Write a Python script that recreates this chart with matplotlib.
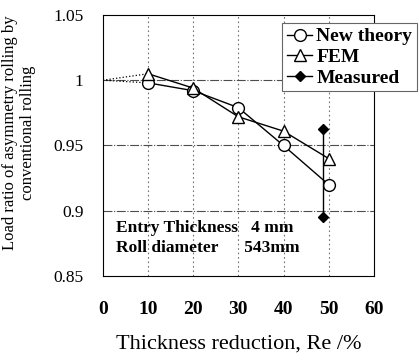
import numpy as np
import matplotlib
matplotlib.use('Agg')
import matplotlib.pyplot as plt

plt.rcParams['font.family'] = ['Liberation Serif', 'DejaVu Serif']

# thickness reduction (%)
reduction = [10, 20, 30, 40, 50]
new_theory = [0.998, 0.992, 0.979, 0.950, 0.920]
fem = [1.005, 0.994, 0.972, 0.961, 0.940]
# measured spread at ~49% reduction
measured_x = [48.8, 48.8]
measured_y = [0.963, 0.895]
# both curves start from ratio 1 at zero reduction
start_x = 0
start_y = 1.0

xticks = [0, 10, 20, 30, 40, 50, 60]
yticks = [0.85, 0.9, 0.95, 1.0, 1.05]
ylabels = ['0.85', '0.9', '0.95', '1', '1.05']

fig = plt.figure(figsize=(4.2, 3.56), dpi=100)
ax = fig.add_axes([0.245, 0.2247, 0.645, 0.7332])

# grid
for x in [10, 20, 30, 40, 50]:
    ax.axvline(x, color='0.45', lw=0.8, ls=(0, (1.5, 2.5)), zorder=0)
for y in [0.9, 0.95, 1.0]:
    ax.axhline(y, color='0.3', lw=0.8, ls=(0, (8, 1.5, 1, 1.5)), zorder=0)

# dotted lead-in from (0, 1)
ax.plot([start_x, reduction[0]], [start_y, new_theory[0]], color='k', lw=0.9, ls=':')
ax.plot([start_x, reduction[0]], [start_y, fem[0]], color='k', lw=0.9, ls=':')

ax.plot(reduction, new_theory, color='k', lw=1, marker='o', ms=8.5,
        mfc='white', mec='k', mew=1, label='New theory')
ax.plot(reduction, fem, color='k', lw=1, marker='^', ms=8.5,
        mfc='white', mec='k', mew=1, label='FEM')
ax.plot(measured_x, measured_y, color='k', lw=1, marker='D', ms=5,
        mfc='k', mec='k', label='Measured')

ax.set_xlim(0, 60)
ax.set_ylim(0.85, 1.05)
ax.set_xticks(xticks)
ax.set_xticklabels([str(t) for t in xticks], fontweight='bold', fontsize=14)
ax.set_yticks(yticks)
ax.set_yticklabels(ylabels, fontsize=12.5)
ax.tick_params(axis='both', length=0)
ax.tick_params(axis='x', pad=18)
ax.tick_params(axis='y', pad=14)

ax.set_xlabel('Thickness reduction, Re /%', fontsize=16, labelpad=12)
fig.text(0.045, 0.628, 'Load ratio of asymmetry rolling by\nconventional rolling',
         rotation=90, ha='center', va='center', fontsize=12, linespacing=1.1)

ax.text(116 / 420, 1 - 228 / 356, 'Entry Thickness   4 mm', transform=fig.transFigure,
        fontsize=12.5, fontweight='bold', va='center')
ax.text(116 / 420, 1 - 248 / 356, 'Roll diameter      543mm', transform=fig.transFigure,
        fontsize=12.5, fontweight='bold', va='center')

leg = fig.legend(loc='upper right', bbox_to_anchor=(417 / 420, 1 - 23 / 356),
                 prop={'weight': 'bold', 'size': 14}, handlelength=1.3,
                 handletextpad=0.2, labelspacing=0.15, borderpad=0.25,
                 fancybox=False, framealpha=1, borderaxespad=0)
leg.get_frame().set_edgecolor('0.4')
leg.get_frame().set_linewidth(0.8)

fig.savefig('out.png', dpi=100)
